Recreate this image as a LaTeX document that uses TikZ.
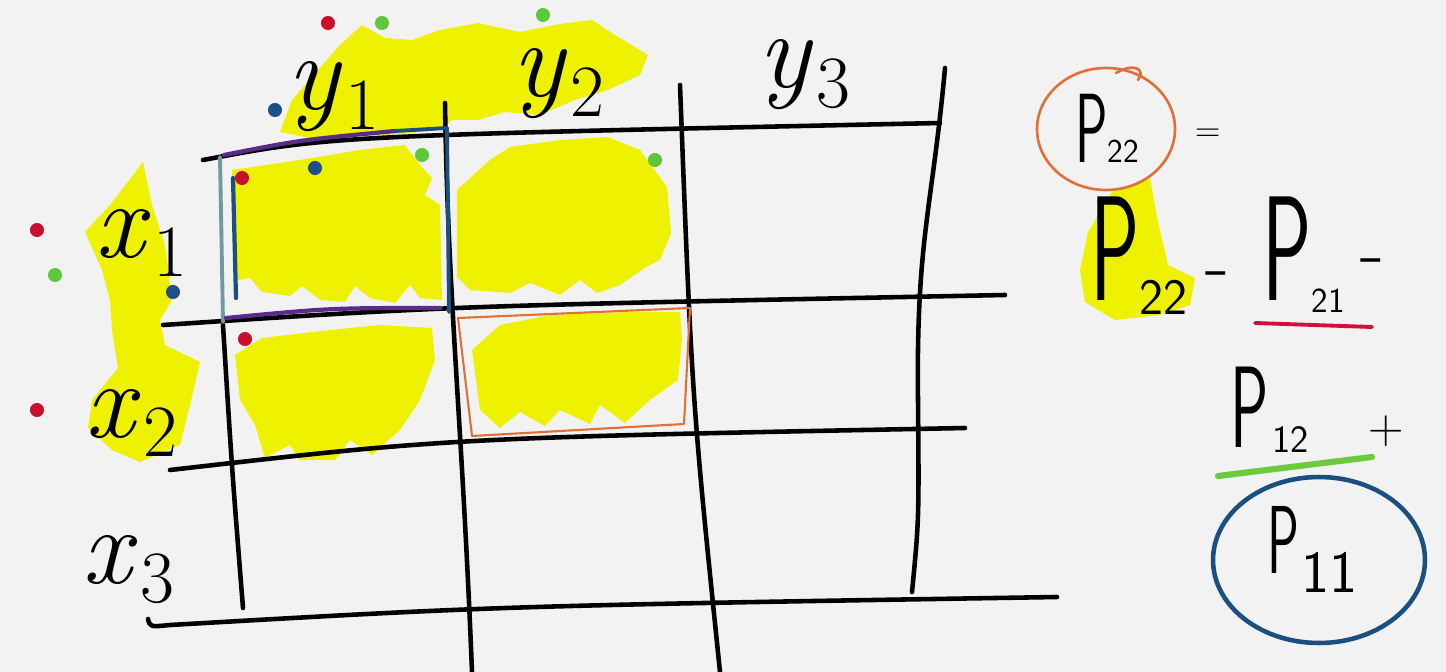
\documentclass[tikz,border=0pt]{standalone}
\usepackage{fontspec}
\usepackage{graphicx}
\usepackage{tikz}
\usetikzlibrary{calc}
\usetikzlibrary{positioning}

\definecolor{board}{HTML}{F2F2F2}
\definecolor{marker}{HTML}{EEF200}
\definecolor{dotred}{HTML}{C8102E}
\definecolor{dotgreen}{HTML}{5DC83A}
\definecolor{dotblue}{HTML}{1F4F8A}
\definecolor{penorange}{HTML}{E07038}
\definecolor{penpurple}{HTML}{5A2C8A}
\definecolor{penteal}{HTML}{6E9AA0}
\definecolor{penblue}{HTML}{1B4F80}
\definecolor{penred}{HTML}{D0103A}
\definecolor{pengreen}{HTML}{6CCB3C}

\newcommand{\pidx}[4]{{\sffamily\scalebox{.55}[1]{P}}\kern#3\raisebox{-#4}{\sffamily\fontsize{#1}{#1}\selectfont #2}}
\newcommand{\vname}[2]{\textit{#1}\kern2pt\raisebox{-.18em}{\fontsize{42}{42}\selectfont #2}}

\begin{document}
\begin{tikzpicture}[x=0.02cm,y=-0.02cm,line cap=round,line join=round,
    pen/.style={line width=2.6pt,black},
    lbl/.style={inner sep=0pt,anchor=base west,font=\fontsize{62}{62}\selectfont},
    pfont/.style={inner sep=0pt,anchor=base west,font=\fontsize{#1}{#1}\selectfont}]

    \fill[board] (0,0) rectangle (1446,672);
    \useasboundingbox (0,0) rectangle (1446,672);

    % marker
    \fill[marker] (280,132) -- (292,100) -- (318,70) -- (340,45) -- (362,25) -- (385,38) -- (412,40) -- (440,30)
    -- (478,23) -- (520,32) -- (560,24) -- (592,20) -- (615,35) -- (648,55) -- (640,75) -- (608,90) -- (575,100)
    -- (540,115) -- (505,112) -- (478,120) -- (452,120) -- (440,130) -- (400,134) -- (360,136) -- (320,140) -- cycle;
    \fill[marker] (232,170) -- (300,160) -- (360,150) -- (405,145) -- (420,165) -- (432,178) -- (425,195) -- (440,205)
    -- (442,300) -- (420,298) -- (410,285) -- (395,303) -- (370,298) -- (355,286) -- (345,302) -- (320,300)
    -- (302,286) -- (290,296) -- (262,292) -- (250,278) -- (238,280) -- (234,230) -- cycle;
    \fill[marker] (457,190) -- (490,160) -- (510,147) -- (560,140) -- (608,137) -- (640,150) -- (667,187) -- (671,233)
    -- (660,260) -- (646,267) -- (620,285) -- (597,293) -- (580,280) -- (560,295) -- (530,283) -- (510,293)
    -- (470,290) -- (457,277) -- cycle;
    \fill[marker] (85,232) -- (110,205) -- (143,162) -- (152,205) -- (165,245) -- (172,300) -- (160,320) -- (165,345)
    -- (200,362) -- (190,405) -- (180,445) -- (140,462) -- (112,450) -- (88,428) -- (92,400) -- (118,368)
    -- (112,330) -- (110,300) -- (102,270) -- cycle;
    \fill[marker] (235,355) -- (262,338) -- (330,330) -- (380,325) -- (432,328) -- (435,360) -- (420,400) -- (400,430)
    -- (372,455) -- (350,440) -- (335,460) -- (300,460) -- (290,445) -- (265,458) -- (255,425) -- (240,400) -- cycle;
    \fill[marker] (472,350) -- (500,325) -- (550,315) -- (630,312) -- (680,312) -- (682,340) -- (678,380) -- (650,400)
    -- (625,423) -- (600,405) -- (590,424) -- (560,410) -- (545,426) -- (520,412) -- (500,428) -- (480,410) -- cycle;
    \fill[marker] (1080,270) -- (1088,232) -- (1112,192) -- (1150,178) -- (1158,222) -- (1168,265) -- (1195,278)
    -- (1190,305) -- (1160,315) -- (1115,320) -- (1085,302) -- cycle;

    % grid
    \path (203,160) coordinate (T1) (940,123) coordinate (T2) (163,325) coordinate (M1) (1005,295) coordinate (M2)
    (170,470) coordinate (L1) (965,428) coordinate (L2) (148,619) coordinate (B1) (1057,597) coordinate (B2);
    \draw[pen] (T1) .. controls (330,136) .. (T2);
    \draw[pen] (M1) .. controls (450,306) .. (M2);
    \draw[pen] (L1) .. controls (450,438) .. (L2);
    \draw[pen] (B1) .. controls (150,627) .. (170,625) .. controls (500,606) .. (B2);
    \draw[pen] (223,325) .. controls (232,470) .. (243,608);
    \draw[pen] (445,103) .. controls (448,300) and (462,420) .. (472,672);
    \draw[pen] (680,85) .. controls (692,400) .. (720,672);
    \draw[pen] (945,68) .. controls (932,210) and (916,240) .. (918,400) .. controls (919,520) .. (912,592);

    \draw[line width=2.2pt,penteal] (220,157) -- (223,322);
    \draw[line width=2.2pt,penblue] (447,128) -- (449,312);
    \draw[line width=2.4pt,penpurple] (224,155) .. controls (300,140) .. (395,131);
    \draw[line width=2.2pt,penblue] (395,131) -- (447,128);
    \draw[line width=2.4pt,penpurple] (226,318) .. controls (330,308) .. (440,308);
    \draw[line width=2.4pt,penblue] (233,178) -- (236,298);
    \draw[line width=1.2pt,penorange] (458,318) -- (690,308) -- (684,424) -- (472,436) -- cycle;

    % labels
    \node[lbl] (xa) at (95,257) {\vname{x}{1}};
    \node[lbl] (xb) at (85,437) {\vname{x}{2}};
    \node[lbl] (xc) at (82,583) {\vname{x}{3}};
    \node[lbl] (ya) at (287,110) {\vname{y}{1}};
    \node[lbl] (yb) at (512,97) {\vname{y}{2}};
    \node[lbl] (yc) at (758,88) {\vname{y}{3}};

    \node[pfont=56] (pa) at (1075,163) {\pidx{19}{22}{0pt}{0pt}};
    \node[pfont=20] (eq) at (1195,142) {=};
    \node[pfont=85] (pb) at (1090,300) {\pidx{29}{22}{0pt}{8pt}};
    \node[pfont=45] (ma) at (1205,290) {-};
    \node[pfont=85] (pc) at (1262,300) {\pidx{20}{21}{0pt}{7pt}};
    \node[pfont=45] (mb) at (1360,277) {-};
    \node[pfont=66] (pd) at (1230,447) {\pidx{22}{12}{2pt}{3pt}};
    \node[pfont=28] (pl) at (1368,443) {+};
    \node[pfont=55] (pe) at (1267,573) {\pidx{34}{11}{1pt}{11pt}};

    \draw[line width=1.5pt,penorange] (1106,129) ellipse [x radius=1.38cm, y radius=1.22cm];
    \draw[line width=1.5pt,penorange] (1116,73) .. controls (1135,62) and (1146,70) .. (1138,80);
    \draw[line width=2.2pt,penred] (1255,323) -- (1372,327);
    \draw[line width=3.5pt,pengreen] (1218,476) -- (1372,457);
    \draw[line width=2.6pt,penblue] (1319,560) ellipse [x radius=2.12cm, y radius=1.66cm];

    % dots
    \foreach \p in {(328,23),(242,178),(37,230),(245,339),(37,410)} \fill[dotred] \p circle (4pt);
    \foreach \p in {(382,23),(543,15),(422,155),(655,160),(55,275)} \fill[dotgreen] \p circle (4pt);
    \foreach \p in {(275,110),(315,168),(173,292)} \fill[dotblue] \p circle (4pt);

\end{tikzpicture}
\end{document}
